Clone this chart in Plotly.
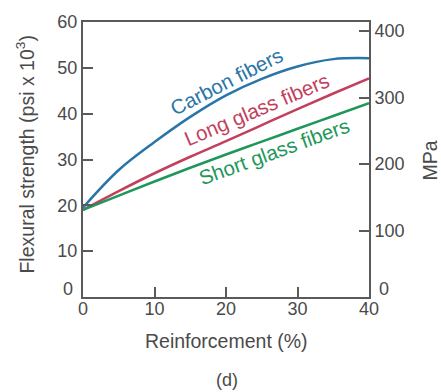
import plotly.graph_objects as go

reinforcement = [0, 5, 10, 15, 20, 25, 30, 35, 40]
carbon = [19.5, 27.7, 33.8, 39.3, 44.0, 47.6, 50.3, 51.9, 52.1]
long_glass = [19.0, 23.1, 27.0, 30.6, 34.0, 37.5, 41.0, 44.4, 47.7]
short_glass = [19.0, 22.1, 25.2, 28.2, 31.1, 33.9, 36.7, 39.5, 42.3]

left_ticks = [0, 10, 20, 30, 40, 50, 60]
right_ticks = [0, 100, 200, 300, 400]
x_ticks = [0, 10, 20, 30, 40]
PSI_TO_MPA = 6.895

series_names = ["Carbon fibers", "Long glass fibers", "Short glass fibers"]
series_colors = ["#2a75a8", "#c2405c", "#1f975a"]
label_pos = [(20.0, 47.0, -27), (24.2, 41.0, -23), (26.7, 31.7, -20)]

FONT = "Liberation Sans, Arial, Helvetica, sans-serif"
TXT = "#4a4a4a"
AX = "#5a5a5a"

fig = go.Figure()
for ys, name, col in zip([carbon, long_glass, short_glass], series_names, series_colors):
    fig.add_trace(go.Scatter(x=reinforcement, y=ys, mode="lines", name=name,
                             line=dict(color=col, width=2.5, shape="spline", smoothing=1.0),
                             showlegend=False, hoverinfo="skip"))
# invisible trace for right axis
fig.add_trace(go.Scatter(x=[0, 40], y=[0, 60 * PSI_TO_MPA], yaxis="y2", mode="lines",
                         line=dict(width=0), showlegend=False, hoverinfo="skip", opacity=0))

annotations = []
for name, col, (lx, ly, ang) in zip(series_names, series_colors, label_pos):
    annotations.append(dict(x=lx, y=ly, xref="x", yref="y", text=name, showarrow=False,
                            xanchor="center", yanchor="middle",
                            textangle=ang, font=dict(family=FONT, size=20.5, color=col)))

annotations += [
    dict(x=-0.2028, y=0.518, xref="paper", yref="paper", text="Flexural strength (psi x 10<sup>3</sup>)",
         textangle=-90, showarrow=False, xanchor="center", yanchor="middle",
         font=dict(family=FONT, size=19.5, color=TXT)),
    dict(x=0.502, y=-0.161, xref="paper", yref="paper", text="Reinforcement (%)",
         xanchor="center", yanchor="middle",
         showarrow=False, font=dict(family=FONT, size=19.5, color=TXT)),
    dict(x=0.502, y=-0.30, xref="paper", yref="paper", text="(d)",
         xanchor="center", yanchor="middle",
         showarrow=False, font=dict(family=FONT, size=18, color=TXT)),
    dict(x=1.213, y=0.496, xref="paper", yref="paper", text="MPa", textangle=-90,
         xanchor="center", yanchor="middle",
         showarrow=False, font=dict(family=FONT, size=19.5, color=TXT)),
    # zero tick labels (raised like in the original)
    dict(x=0, y=0, xref="paper", yref="y", text=str(left_ticks[0]), showarrow=False,
         xanchor="right", yanchor="middle", xshift=-8, yshift=8,
         font=dict(family=FONT, size=18, color=TXT)),
    dict(x=1, y=0, xref="paper", yref="y", text=str(right_ticks[0]), showarrow=False,
         xanchor="left", yanchor="middle", xshift=8, yshift=8,
         font=dict(family=FONT, size=18, color=TXT)),
]

fig.update_layout(
    width=441, height=392,
    margin=dict(l=83, r=72, t=17, b=95),
    paper_bgcolor="white", plot_bgcolor="white",
    font=dict(family=FONT, size=18, color=TXT),
    xaxis=dict(range=[0, 40], tickvals=x_ticks, ticks="inside", ticklen=10, tickwidth=2,
               tickcolor=AX, showline=True, linecolor=AX, linewidth=2, mirror=True,
               ticklabelstandoff=-6,
               showgrid=False, zeroline=False, tickfont=dict(size=18, color=TXT)),
    yaxis=dict(range=[0, 60], tickvals=left_ticks[1:], ticks="inside", ticklen=10, tickwidth=2,
               tickcolor=AX, showline=True, linecolor=AX, linewidth=2,
               showgrid=False, zeroline=False, tickfont=dict(size=18, color=TXT)),
    yaxis2=dict(range=[0, 60 * PSI_TO_MPA], tickvals=right_ticks[1:], ticks="inside", ticklen=10,
                tickwidth=2, tickcolor=AX, showline=True, linecolor=AX, linewidth=2,
                overlaying="y", side="right", anchor="x",
                showgrid=False, zeroline=False, tickfont=dict(size=18, color=TXT)),
    annotations=annotations,
)

fig.write_html("out.html")
